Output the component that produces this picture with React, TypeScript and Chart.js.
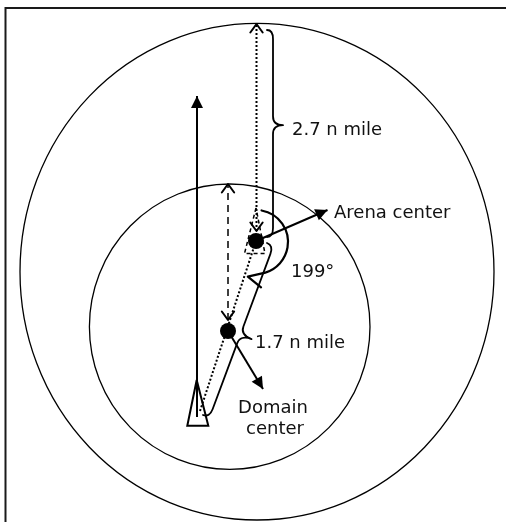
import React, { useEffect, useRef } from "react";
import { Chart, registerables } from "chart.js";

Chart.register(...registerables);

// Diagram plane: x to the right, y downward (one unit ≈ one pixel of the original figure)
const frameX = [5.5, 5.5, 512];
const frameY = [530, 8, 8];

// aircraft heading (solid arrow)
const headingX = [197, 197];
const headingY = [417, 96];

// dotted ray from arena center up to outer boundary (2.7 n mile)
const arenaRayX = [256.5, 256.5];
const arenaRayY = [231, 24];

// dashed ray from domain center up to inner boundary
const domainRayX = [228, 228];
const domainRayY = [320, 184];

// dotted line from aircraft to arena center
const trackX = [200, 256];
const trackY = [411, 241];

// pointers to the label texts
const arenaPointerX = [256, 327.5];
const arenaPointerY = [241, 210];
const domainPointerX = [228, 263];
const domainPointerY = [331, 389];

// aircraft symbol and its ghost copy at the arena center
const aircraftX = [196.7, 187.3, 208.3, 196.7];
const aircraftY = [380, 425.7, 425.7, 380];
const ghostX = [256, 244.5, 265, 256];
const ghostY = [208, 253.5, 253.5, 208];

// centers
const centerNames = ["Arena center", "Domain center"];
const centerX = [256, 228];
const centerY = [241, 331];

// boundary rings (outer = arena, inner = domain)
const ringCX = [257, 229.7];
const ringCY = [271.7, 326.7];
const ringRX = [237, 140.3];
const ringRY = [248.3, 142.7];

// distance braces
const braceNames = ["2.7 n mile", "1.7 n mile"];
const braceFromX = [267, 267];
const braceFromY = [30, 243];
const braceToX = [267, 203];
const braceToY = [237, 415];
const braceTipAt = [0.46, 0.52];

// bearing arc (degrees, canvas orientation)
const angleCenter = [256, 242];
const angleRadius = 32;
const angleStartDeg = -80;
const angleEndDeg = 73;

// text labels
const labelText = ["2.7 n mile", "Arena center", "199\u00b0", "1.7 n mile", "Domain", "center"];
const labelX = [292, 334, 291, 255, 273, 275];
const labelY = [130, 213, 272, 343, 408, 429];
const labelAlign = ["left", "left", "left", "left", "center", "center"];

const pts = (xs: number[], ys: number[]) => xs.map((x, i) => ({ x, y: ys[i] }));

const lineDs = (label: string, xs: number[], ys: number[], extra: any = {}) => ({
  label,
  data: pts(xs, ys),
  showLine: true,
  pointRadius: 0,
  borderColor: "#000",
  borderWidth: 2,
  tension: 0,
  fill: false,
  borderJoinStyle: "miter",
  ...extra,
});

const diagramPlugin = {
  id: "diagram",
  beforeDatasetsDraw(chart: any) {
    const { ctx, scales } = chart;
    const sx = scales.x, sy = scales.y;
    ctx.save();
    ctx.strokeStyle = "#000";
    ctx.lineWidth = 1.3;
    for (let i = 0; i < ringCX.length; i++) {
      const cx = sx.getPixelForValue(ringCX[i]);
      const cy = sy.getPixelForValue(ringCY[i]);
      const rx = Math.abs(sx.getPixelForValue(ringCX[i] + ringRX[i]) - cx);
      const ry = Math.abs(sy.getPixelForValue(ringCY[i] + ringRY[i]) - cy);
      ctx.beginPath();
      ctx.ellipse(cx, cy, rx, ry, 0, 0, Math.PI * 2);
      ctx.stroke();
    }
    ctx.restore();
  },
  afterDatasetsDraw(chart: any) {
    const { ctx, scales } = chart;
    const sx = scales.x, sy = scales.y;
    ctx.save();
    ctx.setLineDash([]);
    ctx.strokeStyle = "#000";
    ctx.fillStyle = "#000";
    ctx.lineCap = "round";
    ctx.lineJoin = "round";

    const head = (tx: number, ty: number, ang: number, kind: string) => {
      if (kind === "filled") {
        const L = 12, W = 6;
        const bx = tx - Math.cos(ang) * L, by = ty - Math.sin(ang) * L;
        const px = -Math.sin(ang) * W, py = Math.cos(ang) * W;
        ctx.beginPath();
        ctx.moveTo(tx, ty);
        ctx.lineTo(bx + px, by + py);
        ctx.lineTo(bx - px, by - py);
        ctx.closePath();
        ctx.fill();
      } else if (kind === "open") {
        const L = 10.5, a = (36 * Math.PI) / 180;
        ctx.lineWidth = 2;
        ctx.beginPath();
        ctx.moveTo(tx - Math.cos(ang - a) * L, ty - Math.sin(ang - a) * L);
        ctx.lineTo(tx, ty);
        ctx.lineTo(tx - Math.cos(ang + a) * L, ty - Math.sin(ang + a) * L);
        ctx.stroke();
      }
    };

    chart.data.datasets.forEach((ds: any, i: number) => {
      const els = chart.getDatasetMeta(i).data;
      if (!els || els.length < 2) return;
      if (ds.arrowEnd) {
        const a = els[els.length - 1], b = els[els.length - 2];
        head(a.x, a.y, Math.atan2(a.y - b.y, a.x - b.x), ds.arrowEnd);
      }
      if (ds.arrowStart) {
        const a = els[0], b = els[1];
        head(a.x, a.y, Math.atan2(a.y - b.y, a.x - b.x), ds.arrowStart);
      }
    });

    // braces
    ctx.lineWidth = 1.8;
    for (let i = 0; i < braceFromX.length; i++) {
      const x1 = sx.getPixelForValue(braceFromX[i]), y1 = sy.getPixelForValue(braceFromY[i]);
      const x2 = sx.getPixelForValue(braceToX[i]), y2 = sy.getPixelForValue(braceToY[i]);
      const len = Math.hypot(x2 - x1, y2 - y1);
      const ux = (x2 - x1) / len, uy = (y2 - y1) / len;
      const nx = uy, ny = -ux;
      const spine = i === 0 ? 6 : 7;
      const depth = i === 0 ? 16 : 19;
      const curl = 9;
      const tipS = len * braceTipAt[i];
      const P = (s: number, h: number): [number, number] => [x1 + ux * s + nx * h, y1 + uy * s + ny * h];
      ctx.beginPath();
      ctx.moveTo(...P(0, 0));
      ctx.quadraticCurveTo(...P(0, spine), ...P(curl, spine));
      ctx.lineTo(...P(tipS - curl, spine));
      ctx.quadraticCurveTo(...P(tipS, spine), ...P(tipS, depth));
      ctx.moveTo(...P(len, 0));
      ctx.quadraticCurveTo(...P(len, spine), ...P(len - curl, spine));
      ctx.lineTo(...P(tipS + curl, spine));
      ctx.quadraticCurveTo(...P(tipS, spine), ...P(tipS, depth));
      ctx.stroke();
    }

    // bearing arc with open arrowhead
    {
      const cx = sx.getPixelForValue(angleCenter[0]);
      const cy = sy.getPixelForValue(angleCenter[1]);
      const r = Math.abs(sx.getPixelForValue(angleCenter[0] + angleRadius) - cx);
      const a0 = (angleStartDeg * Math.PI) / 180;
      const a1 = (angleEndDeg * Math.PI) / 180;
      ctx.lineWidth = 2.2;
      ctx.beginPath();
      ctx.arc(cx, cy, r, a0, a1);
      const ex = cx + Math.cos(a1) * r, ey = cy + Math.sin(a1) * r;
      const d = a1 + Math.PI / 2 + (4 * Math.PI) / 180;
      const tx = ex + Math.cos(d) * 18, ty = ey + Math.sin(d) * 18;
      ctx.lineTo(tx, ty);
      const back = d + Math.PI + (52 * Math.PI) / 180;
      ctx.lineTo(tx + Math.cos(back) * 17, ty + Math.sin(back) * 17);
      ctx.stroke();
    }

    // labels
    ctx.fillStyle = "#111";
    ctx.font = '18px "DejaVu Sans"';
    ctx.textBaseline = "middle";
    for (let i = 0; i < labelText.length; i++) {
      ctx.textAlign = labelAlign[i] as CanvasTextAlign;
      ctx.fillText(labelText[i], sx.getPixelForValue(labelX[i]), sy.getPixelForValue(labelY[i]));
    }
    ctx.restore();
  },
};

export default function App() {
  const ref = useRef<HTMLCanvasElement | null>(null);
  useEffect(() => {
    if (!ref.current) return;
    const chart = new Chart(ref.current, {
      type: "scatter",
      data: {
        datasets: [
          lineDs("frame", frameX, frameY, { borderColor: "#1a1a1a", borderWidth: 2 }),
          lineDs("heading", headingX, headingY, { arrowEnd: "filled" }),
          lineDs("arena ray", arenaRayX, arenaRayY, { borderDash: [2, 2], arrowEnd: "open", arrowStart: "open" }),
          lineDs("domain ray", domainRayX, domainRayY, { borderDash: [7, 5], borderWidth: 1.5, arrowEnd: "open", arrowStart: "open" }),
          lineDs("track", trackX, trackY, { borderDash: [2, 2] }),
          lineDs("arena pointer", arenaPointerX, arenaPointerY, { arrowEnd: "filled" }),
          lineDs("domain pointer", domainPointerX, domainPointerY, { arrowEnd: "filled" }),
          lineDs("aircraft", aircraftX, aircraftY),
          lineDs("aircraft at arena", ghostX, ghostY, { borderDash: [4, 3], borderWidth: 1.5 }),
          {
            label: "centers",
            data: centerX.map((x, i) => ({ x, y: centerY[i], name: centerNames[i] })),
            showLine: false,
            pointRadius: 8,
            pointBackgroundColor: "#000",
            pointBorderWidth: 0,
            borderColor: "#000",
          },
        ] as any,
      },
      options: {
        animation: false,
        responsive: false,
        maintainAspectRatio: false,
        devicePixelRatio: 1,
        events: [],
        layout: { padding: 0, autoPadding: false },
        plugins: { legend: { display: false }, tooltip: { enabled: false } },
        scales: {
          x: { type: "linear", min: 0, max: 506, display: false },
          y: { type: "linear", min: 0, max: 522, reverse: true, display: false },
        },
      } as any,
      plugins: [diagramPlugin],
    });
    return () => chart.destroy();
  }, []);
  return (
    <div style={{ position: "fixed", left: 0, top: 0, width: 506, height: 522, background: "#fff" }}>
      <canvas ref={ref} width={506} height={522} />
    </div>
  );
}
